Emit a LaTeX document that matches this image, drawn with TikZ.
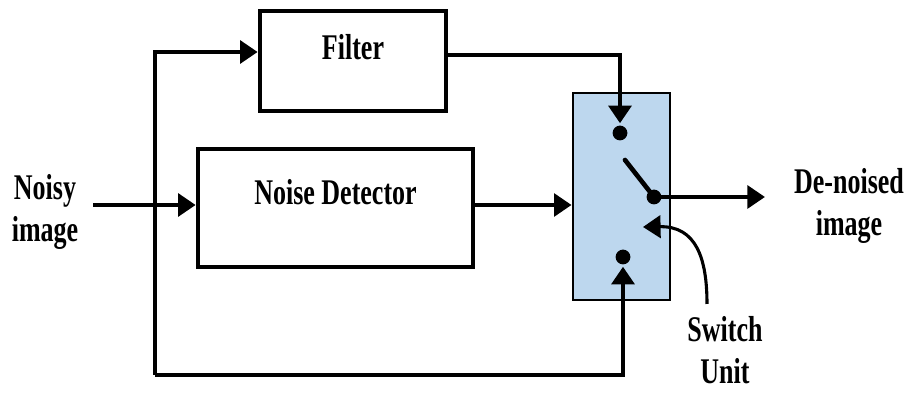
\documentclass[tikz,border=0pt]{standalone}
\usepackage{fontspec}
\setmainfont{Liberation Serif}[FakeStretch=0.72]
\usetikzlibrary{arrows.meta}
\definecolor{swfill}{RGB}{189,215,238}

\begin{document}
\begin{tikzpicture}[line width=3.3pt,
  font=\fontsize{25.7}{30}\selectfont\bfseries,
  blk/.style={draw, inner sep=0pt, anchor=base},
  arr/.style={-{Triangle[length=12.5pt,width=16pt]}},
  dot/.style={circle, fill, inner sep=0pt, minimum size=0.37cm},
  lbl/.style={align=center}]

\useasboundingbox (0,0) rectangle (22.65,9.85);

% blocks
\node[blk, minimum width=4.65cm, text height=1.225cm, text depth=1.275cm] (fil) at (8.825,8.35) {Filter};
\node[blk, minimum width=6.875cm, text height=1.4cm, text depth=1.55cm] (det) at (8.3875,4.725) {Noise Detector};
\node[draw, fill=swfill, line width=2pt, minimum width=2.425cm, minimum height=5.175cm, inner sep=0pt] (sw) at (15.5375,4.9375) {};

% switch contacts
\node[dot] (dTop) at (15.5,6.525) {};
\node[dot] (dPiv) at (16.35,4.925) {};
\node[dot] (dBot) at (15.575,3.425) {};
\coordinate (cArm) at (15.625,5.85);
\draw[line cap=round] (cArm) -- (dPiv.center);

% labels
\node[lbl] (tIn)  at (1.125,4.55) {Noisy\\image};
\node[lbl] (tOut) at (21.225,4.7) {De-noised\\image};
\node[lbl] (tSw)  at (18.125,1.1) {Switch\\Unit};

% connectors
\coordinate (cIn)  at (2.325,4.725);
\coordinate (cTop) at (3.875,8.55);
\coordinate (cBot) at (3.875,0.475);
\coordinate (cFil) at (15.5,8.475);
\coordinate (cOut) at (19.125,4.925);
\coordinate (cCur) at (17.675,2.25);

\draw[arr] (cIn) -- (cIn -| det.west);
\draw[arr] (cBot) -- (cTop) -- (cTop -| fil.west);
\draw[arr] (cBot) -| (dBot.south);
\draw[arr] (cFil -| fil.east) -- (cFil) -- (dTop.north);
\draw[arr] (cIn -| det.east) -- (cIn -| sw.west);
\draw[arr] (dPiv.center) -- (cOut);
\draw[arr, line width=2.2pt] (cCur) .. controls (17.675,3.4) and (17.4,4.2) .. (16.075,4.175);

\end{tikzpicture}
\end{document}
